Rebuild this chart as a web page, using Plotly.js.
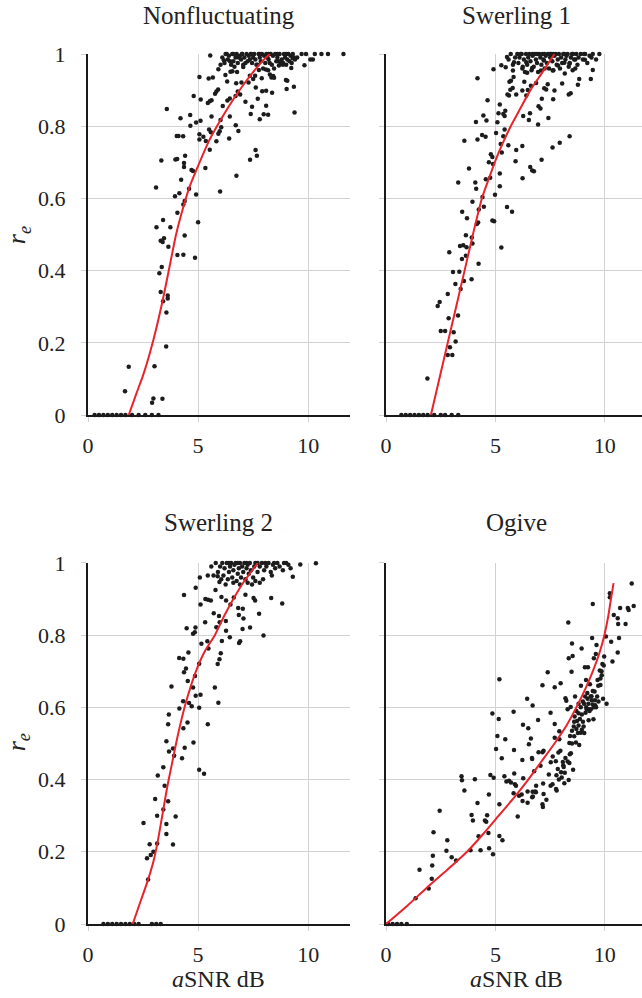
<!DOCTYPE html>
<html>
<head>
<meta charset="utf-8">
<script src="https://cdn.plot.ly/plotly-3.0.1.min.js"></script>
<style>
html,body{margin:0;padding:0;background:#fff;}
#chart{width:642px;height:998px;}
</style>
</head>
<body>
<div id="chart"></div>
<script>
// ---------- data ----------
const panelTitles = ["Nonfluctuating", "Swerling 1", "Swerling 2", "Ogive"];
const xTickVals = [0, 5, 10];
const yTickVals = [0, 0.2, 0.4, 0.6, 0.8, 1];
const yTickText = ["0", "0.2", "0.4", "0.6", "0.8", "1"];

// Nonfluctuating scatter [aSNR dB, r_e]
const nfPoints = [
[0.3,0],[0.5,0],[0.7,0],[0.9,0],[1.1,0],[1.3,0],[1.5,0],[1.7,0],[2.0,0],[2.3,0],[2.6,0],[2.9,0],[3.2,0],
[1.68,0.066],[1.85,0.134],[3.02,0.135],[2.91,0.034],[2.97,0.046],[3.38,0.045],[3.55,0.19],[3.56,0.284],
[3.62,0.331],[3.62,0.323],[3.30,0.341],[3.41,0.315],[3.24,0.393],[3.35,0.41],[3.65,0.466],[3.30,0.483],
[3.39,0.479],[3.45,0.49],[3.11,0.52],[3.74,0.52],[3.41,0.54],[4.06,0.443],[4.33,0.444],[4.86,0.436],
[4.39,0.497],[5.0,0.534],[4.06,0.56],[3.95,0.606],[4.15,0.614],[4.33,0.583],[4.39,0.593],[4.23,0.652],
[4.59,0.627],[4.91,0.611],[3.09,0.63],[3.33,0.705],[3.97,0.708],[4.05,0.709],[4.41,0.718],[4.36,0.698],
[4.36,0.687],[4.70,0.679],[4.77,0.676],[5.33,0.684],[6.0,0.619],[6.74,0.663],[4.03,0.773],[4.11,0.773],
[4.32,0.772],[4.65,0.801],[4.20,0.822],[4.64,0.831],[3.58,0.848],[4.91,0.81],[5.11,0.815],[5.06,0.763],
[5.06,0.778],[5.24,0.771],[5.35,0.759],[5.53,0.735],[5.58,0.783],[5.50,0.791],[5.61,0.827],[5.83,0.758],
[5.92,0.779],[5.98,0.786],[6.05,0.797],[6.02,0.817],[6.41,0.766],[6.44,0.827],[6.71,0.803],[6.83,0.787],
[7.36,0.707],[7.61,0.734],[7.67,0.718],[7.39,0.834],[7.80,0.819],[7.98,0.833],[8.18,0.832],[9.38,0.838],
[4.80,0.884],[5.12,0.874],[5.06,0.936],[5.44,0.864],[5.53,0.869],[5.61,0.872],[5.48,0.932],[5.67,0.935],
[5.77,0.89],[5.83,0.896],[5.91,0.902],[6.12,0.856],[6.33,0.871],[6.44,0.877],[6.70,0.884],[6.80,0.896],
[6.91,0.888],[7.15,0.868],[7.45,0.854],[7.71,0.876],[7.91,0.897],[8.09,0.898],[8.09,0.857],[8.36,0.893],
[8.99,0.928],[9.05,0.926],[9.02,0.903],[9.35,0.909],[9.83,0.969],[5.92,0.958],[6.02,0.97],[6.17,0.983],
[6.24,0.942],[6.32,0.924],[6.47,0.951],[6.56,0.952],[6.73,0.919],[6.77,0.95],[6.97,0.921],[7.05,0.964],
[7.29,0.921],[7.35,0.94],[7.50,0.931],[7.59,0.94],[7.62,0.907],[7.76,0.956],[7.89,0.933],[8.08,0.957],
[8.26,0.943],[8.33,0.935],[8.41,0.939],[8.45,0.934],[8.18,0.955],[8.67,0.968],[8.86,0.975],[9.23,0.961],
[9.30,0.988],[10.21,0.985],[5.55,0.996],
[6.1,0.99],[6.2,0.975],[6.3,1],[6.35,0.985],[6.4,0.995],[6.5,0.97],[6.55,1],[6.6,0.98],[6.7,0.99],[6.75,1],
[6.8,0.975],[6.9,0.995],[6.95,0.985],[7.0,1],[7.05,0.97],[7.1,0.99],[7.2,1],[7.25,0.98],[7.3,0.995],[7.4,1],
[7.45,0.975],[7.5,0.99],[7.55,1],[7.6,0.985],[7.7,0.97],[7.75,1],[7.8,0.99],[7.85,0.98],[7.9,1],[8.0,0.995],
[8.05,0.975],[8.1,1],[8.15,0.99],[8.2,0.985],[8.3,1],[8.35,0.97],[8.4,0.995],[8.5,1],[8.55,0.98],[8.6,0.99],
[8.7,1],[8.75,0.975],[8.8,0.985],[8.9,1],[8.95,0.99],[9.0,0.97],[9.1,1],[9.15,0.98],[9.2,0.995],[9.3,1],
[9.4,0.985],[9.5,0.99],[9.7,1],[9.9,1],[10.1,0.985],[10.3,1],[10.6,1],[10.9,1],[11.6,1],
[6.45,0.98],[6.65,0.965],[6.85,0.99],[7.15,0.975],[7.35,0.985],[7.65,0.97],[7.95,0.96],[8.25,0.975],
[8.45,0.96],[8.65,0.98],[8.85,0.97],[9.05,0.985],[9.25,0.975],[9.35,0.99],
[6.25,1],[6.6,1],[7.0,1],[7.4,1],[7.8,1],[8.2,1],[8.6,1],[9.0,1]
];
const nfCurveX = [1.85, 2.2, 2.5, 2.8, 3.1, 3.4, 3.7, 4.0, 4.3, 4.6, 5.0, 5.5, 6.0, 6.5, 7.0, 7.5, 8.0, 8.26];
const nfCurveY = [0, 0.06, 0.11, 0.17, 0.24, 0.32, 0.41, 0.5, 0.57, 0.63, 0.69, 0.76, 0.815, 0.865, 0.91, 0.95, 0.985, 1.0];

// Swerling 1 scatter
const s1Points = [
[0.7,0],[0.9,0],[1.1,0],[1.3,0],[1.5,0],[1.7,0],[1.9,0],[2.2,0],[2.5,0],[2.7,0],[3.0,0],[3.3,0],
[1.89,0.101],[2.82,0.166],[3.03,0.166],[2.92,0.188],[3.09,0.229],[2.50,0.233],[2.70,0.233],[3.18,0.204],
[2.86,0.268],[3.29,0.276],[2.36,0.302],[2.45,0.313],[2.82,0.335],[3.17,0.363],[3.56,0.371],[3.91,0.376],
[3.41,0.349],[3.06,0.396],[3.35,0.397],[4.23,0.419],[3.47,0.432],[3.65,0.441],[2.89,0.451],[3.38,0.468],
[3.53,0.47],[3.68,0.465],[3.95,0.475],[3.92,0.492],[3.65,0.498],[4.21,0.533],[4.15,0.529],[5.27,0.464],
[4.86,0.539],[4.94,0.537],[3.70,0.545],[3.48,0.563],[4.24,0.569],[4.41,0.604],[4.47,0.577],[3.95,0.591],
[5.53,0.576],[5.76,0.563],[4.12,0.627],[4.08,0.644],[3.30,0.644],[4.98,0.61],[5.20,0.634],[5.20,0.669],
[4.56,0.653],[4.76,0.657],[6.24,0.656],[3.79,0.683],[4.70,0.70],[4.89,0.695],[4.79,0.722],[4.86,0.715],
[5.92,0.703],[6.59,0.687],[6.68,0.677],[6.76,0.675],[7.11,0.707],[5.29,0.727],[5.95,0.734],[6.23,0.745],
[5.59,0.747],[5.24,0.751],[3.58,0.76],[4.18,0.763],[4.39,0.776],[4.55,0.771],[5.03,0.781],[5.36,0.772],
[5.42,0.791],[7.61,0.741],[7.94,0.754],[8.39,0.772],[4.11,0.812],[4.59,0.816],[4.45,0.83],[5.09,0.811],
[5.14,0.836],[5.42,0.828],[5.36,0.834],[6.27,0.828],[6.53,0.817],[6.95,0.805],[7.42,0.823],[5.20,0.86],
[5.45,0.843],[4.64,0.872],[6.58,0.836],[6.97,0.855],[7.06,0.849],[7.12,0.876],[7.64,0.875],[8.35,0.888],
[8.44,0.891],[4.18,0.933],[4.91,0.958],[5.47,0.963],[5.27,0.969],[5.53,0.992],[5.55,0.888],[5.62,0.885],
[5.68,0.901],[5.79,0.906],[5.64,0.923],[5.71,0.926],[5.83,0.936],[5.80,0.954],[5.85,0.977],[5.95,0.888],
[6.23,0.899],[6.32,0.923],[6.41,0.885],[6.48,0.90],[6.62,0.912],[6.86,0.92],[7.23,0.905],[7.32,0.902],
[7.39,0.916],[7.70,0.899],[8.05,0.918],[8.17,0.946],[8.53,0.955],[8.77,0.915],[8.83,0.931],[9.36,0.931],
[9.45,0.956],[6.23,0.96],[6.45,0.948],[6.41,0.977],[6.68,0.961],[7.08,0.954],[7.21,0.982],[7.62,0.954],
[7.86,0.968],[8.15,0.976],[8.38,0.973],[8.65,0.985],[9.09,0.984],[9.39,0.99],
[5.6,0.985],[5.7,1],[5.8,0.97],[5.9,0.99],[6.0,1],[6.05,0.975],[6.1,0.99],[6.2,1],[6.25,0.965],[6.3,0.985],
[6.4,1],[6.45,0.97],[6.5,0.99],[6.55,1],[6.6,0.98],[6.7,0.995],[6.75,0.965],[6.8,1],[6.85,0.985],[6.9,0.975],
[7.0,1],[7.05,0.99],[7.1,0.97],[7.15,1],[7.2,0.985],[7.3,0.995],[7.35,0.975],[7.4,1],[7.45,0.96],[7.5,0.99],
[7.55,1],[7.6,0.98],[7.7,0.995],[7.75,1],[7.8,0.97],[7.85,0.985],[7.9,1],[8.0,0.99],[8.05,0.975],[8.1,1],
[8.2,0.985],[8.25,0.995],[8.3,1],[8.4,0.975],[8.45,0.99],[8.5,1],[8.6,0.985],[8.7,1],[8.75,0.97],[8.8,0.99],
[8.9,1],[9.0,0.985],[9.1,1],[9.2,0.975],[9.3,0.995],[9.45,1],[9.6,0.985],[9.75,1],
[6.35,0.95],[6.65,0.955],[6.95,0.95],[7.25,0.96],[7.65,0.955],[7.95,0.96],[8.35,0.965],[8.65,0.96],
[6.15,1],[6.7,1],[7.25,1],[7.65,1],[8.15,1],[8.55,1],[9.05,1],[6.9,1],[7.5,1]
];
const s1CurveX = [2.05, 2.82, 3.59, 3.97, 4.38, 4.70, 5.00, 5.35, 5.70, 6.10, 6.60, 7.10, 7.70];
const s1CurveY = [0, 0.2, 0.4, 0.5, 0.6, 0.655, 0.705, 0.755, 0.8, 0.845, 0.9, 0.945, 1.0];

// Swerling 2 scatter
const s2Points = [
[0.7,0],[0.9,0],[1.1,0],[1.3,0],[1.5,0],[1.7,0],[1.9,0],[2.1,0],[2.3,0],[2.9,0],[3.1,0],[3.3,0],
[2.73,0.123],[2.68,0.182],[2.85,0.191],[2.97,0.20],[2.80,0.221],[3.14,0.223],[3.86,0.22],[2.52,0.28],
[3.56,0.277],[3.56,0.249],[3.14,0.30],[3.98,0.298],[3.42,0.317],[3.64,0.34],[3.05,0.346],[3.48,0.383],
[3.42,0.434],[3.17,0.411],[4.27,0.459],[3.86,0.486],[3.91,0.466],[3.68,0.478],[4.39,0.488],[3.56,0.506],
[4.79,0.503],[5.05,0.427],[5.27,0.416],[3.64,0.553],[3.67,0.58],[4.52,0.558],[4.33,0.542],[5.44,0.553],
[4.15,0.597],[4.32,0.617],[4.59,0.612],[4.71,0.603],[5.05,0.599],[4.89,0.632],[5.11,0.635],[5.92,0.613],
[3.79,0.658],[4.77,0.655],[5.76,0.655],[4.86,0.687],[4.53,0.673],[4.45,0.708],[4.36,0.697],[4.14,0.737],
[4.33,0.735],[4.56,0.752],[5.05,0.721],[5.89,0.72],[5.97,0.733],[6.03,0.75],[5.47,0.763],[5.15,0.776],
[5.42,0.783],[6.08,0.784],[6.44,0.794],[6.86,0.778],[6.91,0.783],[4.77,0.804],[4.85,0.808],[4.88,0.821],
[4.48,0.819],[6.27,0.812],[7.36,0.821],[7.02,0.817],[7.97,0.799],[5.83,0.822],[5.32,0.836],[5.98,0.836],
[5.71,0.861],[6.26,0.839],[5.95,0.853],[6.85,0.856],[7.06,0.846],[7.77,0.859],[4.36,0.911],[5.11,0.885],
[4.89,0.931],[5.08,0.96],[5.44,0.965],[5.33,0.90],[5.45,0.898],[5.58,0.896],[5.79,0.925],[5.89,0.963],
[5.97,0.947],[6.06,0.906],[6.27,0.896],[6.47,0.885],[6.62,0.904],[6.82,0.875],[7.03,0.873],[7.15,0.912],
[7.52,0.903],[7.59,0.896],[8.32,0.903],[8.82,0.888],[9.30,0.962],[9.64,0.996],[10.35,0.999],
[5.6,0.99],[5.8,1],[5.9,0.975],[6.0,0.99],[6.1,1],[6.15,0.965],[6.2,0.985],[6.3,1],[6.35,0.955],[6.4,0.975],
[6.45,0.99],[6.5,1],[6.55,0.96],[6.6,0.98],[6.65,0.995],[6.7,1],[6.75,0.95],[6.8,0.97],[6.85,0.985],[6.9,1],
[6.95,0.96],[7.0,0.99],[7.05,0.975],[7.1,1],[7.15,0.955],[7.2,0.985],[7.25,0.995],[7.3,0.97],[7.35,1],[7.4,0.98],
[7.5,0.96],[7.55,0.99],[7.6,1],[7.7,0.975],[7.8,0.99],[7.9,1],[8.0,0.98],[8.1,0.99],[8.2,1],[8.3,0.975],
[8.4,0.995],[8.5,0.985],[8.6,1],[8.7,0.99],[8.85,0.98],[9.0,1],[9.1,0.995],[9.2,0.985],
[6.25,0.94],[6.6,0.945],[6.9,0.94],[7.25,0.945],[7.6,0.95],[7.95,0.955],[8.35,0.965],[6.05,0.955],
[6.4,1],[6.8,1],[7.2,1],[7.7,1],[8.05,1],[8.45,1],[8.9,1],[5.7,0.965],[7.45,0.94],[7.8,0.945]
];
const s2CurveX = [2.03, 2.4, 2.73, 3.0, 3.2, 3.4, 3.6, 3.8, 4.0, 4.2, 4.5, 4.9, 5.3, 5.76, 6.2, 6.6, 7.1, 7.71];
const s2CurveY = [0, 0.065, 0.123, 0.18, 0.24, 0.31, 0.38, 0.44, 0.5, 0.555, 0.625, 0.7, 0.755, 0.8, 0.855, 0.9, 0.95, 1.0];

// Ogive scatter
const ogPoints = [
[0.1,0],[0.3,0],[0.5,0],[0.7,0],[0.95,0],
[1.35,0.071],[1.95,0.098],[2.09,0.125],[1.53,0.15],[2.11,0.162],[2.14,0.189],[2.17,0.254],[2.45,0.314],
[2.76,0.203],[2.80,0.232],[3.00,0.185],[3.20,0.176],[3.45,0.409],[3.47,0.398],[3.58,0.37],[4.06,0.401],
[3.91,0.302],[3.97,0.287],[3.86,0.204],[4.18,0.335],[4.23,0.243],[4.32,0.204],[4.52,0.287],[4.58,0.283],
[4.62,0.301],[4.68,0.252],[4.70,0.359],[4.71,0.21],[4.77,0.413],[4.89,0.193],[4.92,0.405],[4.86,0.583],
[5.03,0.485],[5.09,0.521],[5.15,0.568],[5.18,0.678],[5.18,0.332],[5.18,0.244],[5.32,0.232],[5.29,0.459],
[5.41,0.409],[5.45,0.512],[5.50,0.395],[5.62,0.397],[5.71,0.392],[5.83,0.588],[5.85,0.482],[5.86,0.417],
[5.89,0.387],[5.94,0.383],[5.83,0.362],[6.02,0.298],[6.08,0.355],[6.20,0.359],[6.23,0.454],[6.24,0.341],
[6.26,0.552],[6.27,0.404],[6.45,0.624],[6.50,0.542],[6.53,0.498],[6.47,0.367],[6.47,0.336],[6.62,0.514],
[6.67,0.46],[6.68,0.457],[6.70,0.605],[6.70,0.366],[6.68,0.351],[6.82,0.367],[6.86,0.383],[6.71,0.353],
[6.77,0.423],[6.85,0.365],[6.95,0.565],[6.97,0.476],[7.06,0.438],[7.15,0.476],[7.20,0.48],[7.15,0.332],
[7.17,0.324],[7.18,0.389],[7.20,0.36],[7.33,0.344],[7.39,0.697],[7.15,0.661],[7.44,0.414],[7.52,0.585],
[7.53,0.448],[7.52,0.383],[7.61,0.387],[7.62,0.464],[7.71,0.656],[7.71,0.554],[7.71,0.516],[7.76,0.451],
[7.77,0.374],[7.79,0.412],[7.85,0.429],[7.98,0.667],[7.88,0.475],[7.92,0.512],[7.92,0.534],[7.97,0.48],
[8.03,0.406],[8.08,0.449],[8.12,0.435],[8.17,0.419],[8.20,0.625],[8.24,0.618],[8.30,0.595],[8.33,0.835],
[8.35,0.736],[8.35,0.399],[8.38,0.501],[8.38,0.446],[8.41,0.521],[8.44,0.601],[8.45,0.473],[8.48,0.699],
[8.50,0.777],[8.50,0.535],[8.53,0.742],[8.55,0.427],[8.58,0.547],[8.64,0.63],[8.62,0.575],[8.68,0.503],
[8.73,0.562],[8.77,0.529],[8.80,0.584],[8.83,0.496],[8.86,0.568],[8.91,0.66],[8.94,0.763],[8.95,0.538],
[9.0,0.616],[9.03,0.547],[9.06,0.529],[9.09,0.711],[9.12,0.585],[9.14,0.676],[9.17,0.595],[9.21,0.624],
[9.23,0.711],[9.26,0.564],[9.27,0.595],[9.32,0.664],[9.36,0.595],[9.39,0.631],[9.42,0.792],[9.44,0.608],
[9.45,0.886],[9.48,0.567],[9.50,0.736],[9.53,0.644],[9.56,0.606],[9.59,0.748],[9.62,0.773],[9.67,0.676],
[9.71,0.616],[9.77,0.702],[9.80,0.662],[9.86,0.689],[9.89,0.72],[9.92,0.624],[9.95,0.716],[9.97,0.741],
[10.08,0.61],[10.05,0.796],[10.29,0.782],[10.35,0.727],[10.23,0.916],[10.23,0.905],[10.41,0.856],
[10.59,0.847],[10.61,0.831],[10.65,0.792],[10.59,0.752],[10.70,0.875],[10.95,0.831],[11.05,0.875],
[11.09,0.87],[11.32,0.881],[11.23,0.943],
[8.6,0.56],[8.7,0.59],[8.8,0.61],[8.9,0.6],[8.95,0.58],[9.05,0.61],[9.1,0.63],[9.15,0.6],[9.2,0.64],
[9.25,0.61],[9.3,0.59],[9.35,0.63],[9.4,0.62],[9.45,0.645],[9.5,0.6],[9.55,0.62],[9.6,0.6],[9.65,0.63],
[8.5,0.5],[8.6,0.52],[8.7,0.54],[8.8,0.55],[8.9,0.53],[9.0,0.56],[8.4,0.47],[8.3,0.45],[8.2,0.46],
[8.1,0.44],[8.0,0.42],[8.15,0.39],[7.9,0.4],[7.8,0.37],[9.7,0.66],[9.8,0.68],[9.85,0.7]
];
const ogCurveX = [0, 1.0, 1.85, 2.8, 3.7, 4.45, 5.15, 5.85, 6.5, 7.1, 7.7, 8.25, 8.7, 9.1, 9.45, 9.75, 9.98, 10.15, 10.28, 10.40];
const ogCurveY = [0, 0.052, 0.1, 0.15, 0.2, 0.25, 0.3, 0.35, 0.4, 0.45, 0.5, 0.55, 0.6, 0.65, 0.7, 0.75, 0.8, 0.85, 0.9, 0.944];

// ---------- build ----------
const dotColor = "#1c1c1c";
const curveColor = "#e8232b";
const serif = '"Liberation Serif", "Times New Roman", serif';

const sets = [
  {pts: nfPoints, cx: nfCurveX, cy: nfCurveY, xa: "x",  ya: "y"},
  {pts: s1Points, cx: s1CurveX, cy: s1CurveY, xa: "x2", ya: "y2"},
  {pts: s2Points, cx: s2CurveX, cy: s2CurveY, xa: "x3", ya: "y3"},
  {pts: ogPoints, cx: ogCurveX, cy: ogCurveY, xa: "x4", ya: "y4"}
];

const traces = [];
sets.forEach(s => {
  traces.push({
    type: "scatter", mode: "markers",
    x: s.pts.map(p => p[0]), y: s.pts.map(p => p[1]),
    xaxis: s.xa, yaxis: s.ya,
    marker: {size: 4.5, color: dotColor},
    cliponaxis: false, hoverinfo: "skip", showlegend: false
  });
  traces.push({
    type: "scatter", mode: "lines",
    x: s.cx, y: s.cy,
    xaxis: s.xa, yaxis: s.ya,
    line: {color: curveColor, width: 2, shape: "spline", smoothing: 0.6},
    cliponaxis: false, hoverinfo: "skip", showlegend: false
  });
});

function xAxis(domain, range, anchor) {
  return {
    domain: domain, range: range, anchor: anchor,
    tickvals: xTickVals, ticktext: xTickVals.map(String),
    showgrid: true, gridcolor: "#d2d2d2", gridwidth: 1,
    showline: true, linecolor: "#1a1a1a", linewidth: 2,
    ticks: "outside", ticklen: 5, tickcolor: "#d2d2d2", tickwidth: 1,
    zeroline: false, ticklabelstandoff: 5,
    tickfont: {family: serif, size: 22, color: "#222"}
  };
}
function yAxis(domain, anchor, showLabels) {
  return {
    domain: domain, range: [0, 1], anchor: anchor,
    tickvals: yTickVals, ticktext: yTickText,
    showgrid: true, gridcolor: "#d2d2d2", gridwidth: 1,
    showline: true, linecolor: "#1a1a1a", linewidth: 2,
    ticks: "outside", ticklen: 5, tickcolor: "#d2d2d2", tickwidth: 1,
    zeroline: false, showticklabels: showLabels, ticklabelstandoff: 11,
    tickfont: {family: serif, size: 22, color: "#222"}
  };
}

const dL = [0, 0.473], dR = [0.538, 1.0];
const dT = [0.585, 1.0], dB = [0, 0.415];

const ann = [];
const titlePos = [[0.236, 1.0437], [0.773, 1.0437], [0.236, 0.461], [0.773, 0.461]];
panelTitles.forEach((t, i) => {
  ann.push({text: t, xref: "paper", yref: "paper", x: titlePos[i][0], y: titlePos[i][1],
    xanchor: "center", yanchor: "middle", showarrow: false,
    font: {family: serif, size: 25, color: "#222"}});
});
[0.792, 0.209].forEach(yy => {
  ann.push({text: "<i>r</i><sub><i>e</i></sub>", xref: "paper", yref: "paper", x: -0.126, y: yy,
    xanchor: "center", yanchor: "middle", textangle: -90, showarrow: false,
    font: {family: serif, size: 26, color: "#222"}});
});
[0.236, 0.774].forEach(xx => {
  ann.push({text: "<i>a</i>SNR dB", xref: "paper", yref: "paper", x: xx, y: -0.046,
    xanchor: "center", yanchor: "top", showarrow: false,
    font: {family: serif, size: 24, color: "#222"}});
});

const layout = {
  width: 642, height: 998,
  margin: {l: 88, r: 0, t: 54, b: 74},
  paper_bgcolor: "#fff", plot_bgcolor: "#fff",
  font: {family: serif, size: 22, color: "#222"},
  showlegend: false,
  xaxis: xAxis(dL, [0, 11.9], "y"),
  yaxis: yAxis(dT, "x", true),
  xaxis2: xAxis(dR, [0, 11.7], "y2"),
  yaxis2: yAxis(dT, "x2", false),
  xaxis3: xAxis(dL, [0, 11.9], "y3"),
  yaxis3: yAxis(dB, "x3", true),
  xaxis4: xAxis(dR, [0, 11.7], "y4"),
  yaxis4: yAxis(dB, "x4", false),
  annotations: ann
};

Plotly.newPlot("chart", traces, layout, {displayModeBar: false, staticPlot: true});
</script>
</body>
</html>
